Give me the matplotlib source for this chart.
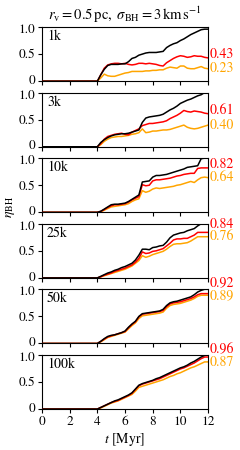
import numpy as np
import matplotlib
matplotlib.use('Agg')
import matplotlib.pyplot as plt
import matplotlib.transforms as mtransforms

plt.rcParams.update({
    "font.family": "serif",
    "font.serif": ["STIXGeneral", "Liberation Serif", "DejaVu Serif"],
    "mathtext.fontset": "stix",
    "font.size": 10,
    "xtick.labelsize": 9.5,
    "ytick.labelsize": 9.5,
    "axes.linewidth": 0.8,
    "xtick.major.size": 3,
    "ytick.major.size": 3,
    "xtick.major.width": 0.8,
    "ytick.major.width": 0.8,
})

# time grid (Myr); all curves are zero before 4 Myr
t = [0.0] + [4.0 + 0.25 * i for i in range(33)]

panel_names = ['1k', '3k', '10k', '25k', '50k', '100k']

black_1k = [0, 0.12, 0.22, 0.29, 0.31, 0.31, 0.31, 0.32, 0.32, 0.36, 0.42, 0.44, 0.48, 0.50, 0.52, 0.53, 0.53,
            0.53, 0.54, 0.55, 0.62, 0.66, 0.69, 0.71, 0.75, 0.78, 0.82, 0.86, 0.89, 0.92, 0.95, 0.96, 0.96]
red_1k = [0, 0.12, 0.24, 0.30, 0.32, 0.33, 0.33, 0.32, 0.33, 0.31, 0.30, 0.31, 0.33, 0.33, 0.32, 0.33, 0.32,
          0.31, 0.29, 0.28, 0.34, 0.38, 0.42, 0.45, 0.47, 0.46, 0.44, 0.45, 0.47, 0.46, 0.46, 0.44, 0.43]
orange_1k = [0, 0.06, 0.13, 0.10, 0.09, 0.09, 0.11, 0.13, 0.15, 0.16, 0.18, 0.18, 0.18, 0.18, 0.19, 0.19, 0.20,
             0.20, 0.21, 0.21, 0.24, 0.26, 0.25, 0.24, 0.28, 0.28, 0.24, 0.23, 0.23, 0.25, 0.27, 0.24, 0.23]

black_3k = [0, 0.08, 0.13, 0.17, 0.20, 0.22, 0.23, 0.24, 0.24, 0.25, 0.27, 0.29, 0.31, 0.45, 0.53, 0.55, 0.56,
            0.57, 0.58, 0.60, 0.64, 0.68, 0.71, 0.75, 0.80, 0.83, 0.86, 0.88, 0.91, 0.94, 0.96, 1.00, 1.00]
red_3k = [0, 0.06, 0.14, 0.19, 0.21, 0.23, 0.24, 0.25, 0.23, 0.22, 0.27, 0.30, 0.33, 0.39, 0.41, 0.43, 0.43,
          0.44, 0.45, 0.46, 0.48, 0.52, 0.55, 0.58, 0.62, 0.67, 0.65, 0.64, 0.66, 0.65, 0.64, 0.62, 0.61]
orange_3k = [0, 0.04, 0.10, 0.14, 0.17, 0.18, 0.19, 0.19, 0.20, 0.21, 0.23, 0.24, 0.26, 0.33, 0.26, 0.27, 0.29,
             0.29, 0.30, 0.31, 0.31, 0.32, 0.34, 0.36, 0.38, 0.40, 0.36, 0.34, 0.33, 0.34, 0.36, 0.38, 0.40]

black_10k = [0, 0.02, 0.06, 0.10, 0.14, 0.15, 0.15, 0.16, 0.17, 0.20, 0.24, 0.28, 0.32, 0.56, 0.57, 0.58, 0.65,
             0.68, 0.68, 0.69, 0.70, 0.72, 0.74, 0.76, 0.78, 0.80, 0.83, 0.84, 0.85, 0.86, 0.99, 1.00, 1.00]
red_10k = [0, 0.02, 0.05, 0.09, 0.12, 0.14, 0.14, 0.15, 0.16, 0.19, 0.23, 0.26, 0.29, 0.51, 0.49, 0.50, 0.58,
           0.60, 0.60, 0.61, 0.62, 0.63, 0.65, 0.67, 0.68, 0.70, 0.71, 0.72, 0.72, 0.81, 0.82, 0.82, 0.82]
orange_10k = [0, 0.01, 0.04, 0.07, 0.10, 0.11, 0.12, 0.13, 0.14, 0.16, 0.20, 0.23, 0.25, 0.40, 0.37, 0.39, 0.43,
              0.45, 0.44, 0.45, 0.46, 0.47, 0.48, 0.50, 0.51, 0.53, 0.55, 0.57, 0.55, 0.60, 0.64, 0.65, 0.64]

black_25k = [0, 0.03, 0.06, 0.09, 0.11, 0.14, 0.16, 0.19, 0.21, 0.24, 0.27, 0.33, 0.42, 0.53, 0.53, 0.52, 0.56,
             0.57, 0.59, 0.60, 0.66, 0.74, 0.79, 0.81, 0.83, 0.84, 0.87, 0.89, 0.91, 0.96, 1.00, 1.00, 1.00]
red_25k = [0, 0.02, 0.05, 0.07, 0.09, 0.12, 0.14, 0.16, 0.18, 0.21, 0.24, 0.29, 0.36, 0.48, 0.45, 0.46, 0.49,
           0.50, 0.52, 0.54, 0.59, 0.64, 0.70, 0.72, 0.72, 0.73, 0.73, 0.76, 0.79, 0.84, 0.84, 0.84, 0.84]
orange_25k = [0, 0.02, 0.04, 0.06, 0.08, 0.10, 0.12, 0.14, 0.16, 0.19, 0.22, 0.27, 0.32, 0.41, 0.38, 0.40, 0.43,
              0.45, 0.47, 0.49, 0.53, 0.58, 0.62, 0.63, 0.63, 0.64, 0.65, 0.68, 0.72, 0.76, 0.76, 0.76, 0.76]

black_50k = [0, 0.04, 0.09, 0.13, 0.15, 0.16, 0.18, 0.20, 0.23, 0.30, 0.36, 0.41, 0.50, 0.55, 0.56, 0.57, 0.58,
             0.59, 0.60, 0.63, 0.70, 0.75, 0.77, 0.78, 0.80, 0.82, 0.84, 0.86, 0.90, 0.95, 0.98, 1.00, 1.00]
red_50k = [0, 0.04, 0.08, 0.12, 0.14, 0.16, 0.18, 0.20, 0.22, 0.29, 0.35, 0.40, 0.49, 0.54, 0.55, 0.56, 0.57,
           0.58, 0.59, 0.61, 0.68, 0.73, 0.75, 0.76, 0.77, 0.79, 0.81, 0.83, 0.86, 0.90, 0.92, 0.92, 0.92]
orange_50k = [0, 0.03, 0.07, 0.11, 0.13, 0.15, 0.17, 0.19, 0.21, 0.27, 0.33, 0.38, 0.46, 0.51, 0.52, 0.53, 0.54,
              0.55, 0.56, 0.58, 0.65, 0.70, 0.72, 0.73, 0.74, 0.76, 0.78, 0.80, 0.83, 0.87, 0.89, 0.89, 0.89]

black_100k = [0, 0.03, 0.06, 0.09, 0.12, 0.15, 0.17, 0.20, 0.23, 0.26, 0.30, 0.37, 0.44, 0.47, 0.49, 0.51, 0.53,
              0.56, 0.58, 0.61, 0.64, 0.67, 0.70, 0.73, 0.76, 0.78, 0.81, 0.85, 0.88, 0.92, 0.96, 0.99, 1.00]
red_100k = [0, 0.03, 0.06, 0.09, 0.12, 0.14, 0.16, 0.19, 0.22, 0.25, 0.29, 0.36, 0.43, 0.46, 0.48, 0.50, 0.52,
            0.54, 0.56, 0.59, 0.62, 0.65, 0.68, 0.71, 0.74, 0.76, 0.79, 0.82, 0.85, 0.89, 0.93, 0.96, 0.96]
orange_100k = [0, 0.02, 0.05, 0.08, 0.11, 0.13, 0.15, 0.18, 0.21, 0.24, 0.27, 0.33, 0.40, 0.42, 0.44, 0.46, 0.48,
               0.50, 0.52, 0.54, 0.57, 0.60, 0.62, 0.65, 0.67, 0.70, 0.73, 0.76, 0.78, 0.81, 0.84, 0.87, 0.87]

black_all = [black_1k, black_3k, black_10k, black_25k, black_50k, black_100k]
red_all = [red_1k, red_3k, red_10k, red_25k, red_50k, red_100k]
orange_all = [orange_1k, orange_3k, orange_10k, orange_25k, orange_50k, orange_100k]

fig, axes = plt.subplots(6, 1, figsize=(2.4, 4.5), dpi=100, sharex=True)
fig.subplots_adjust(left=0.175, right=0.867, top=0.94, bottom=0.091, hspace=0.21)

# tiny nudges so "0" and "1.0" of neighbouring panels don't collide
nudge_up = mtransforms.ScaledTranslation(0, 1.2 / 72, fig.dpi_scale_trans)
nudge_down = mtransforms.ScaledTranslation(0, -1.2 / 72, fig.dpi_scale_trans)

for ax, name, blk, red, org in zip(axes, panel_names, black_all, red_all, orange_all):
    ax.plot(t, [0] + org, color='orange', lw=1.1, zorder=2)
    ax.plot(t, [0] + red, color='red', lw=1.1, zorder=3)
    ax.plot(t, [0] + blk, color='black', lw=1.1, zorder=4)

    ax.set_xlim(0, 12)
    ax.set_ylim(0, 1)
    ax.set_yticks([0, 0.5, 1.0])
    ax.set_yticklabels(['0', '0.5', '1.0'])
    ax.set_xticks(range(0, 13, 2))
    ax.tick_params(direction='out', pad=2)
    labels = ax.get_yticklabels()
    labels[0].set_transform(labels[0].get_transform() + nudge_up)
    labels[-1].set_transform(labels[-1].get_transform() + nudge_down)

    ax.text(0.03, 0.95, name, transform=ax.transAxes, ha='left', va='top')

    # final fractions on the right, red one pushed up so they do not overlap
    y_org = org[-1]
    y_red = max(red[-1] + 0.07, y_org + 0.23)
    ax.annotate(f'{red[-1]:.2f}', xy=(1.01, y_red), xycoords=('axes fraction', 'data'),
                color='red', ha='left', va='center', annotation_clip=False)
    ax.annotate(f'{org[-1]:.2f}', xy=(1.01, y_org), xycoords=('axes fraction', 'data'),
                color='orange', ha='left', va='center', annotation_clip=False)

axes[0].set_title(r'$r_{\rm v} = 0.5\,{\rm pc},\ \sigma_{\rm BH} = 3\,{\rm km\,s^{-1}}$', fontsize=10.5, pad=5)
axes[-1].set_xlabel(r'$t$ [Myr]', labelpad=2)
fig.text(0.045, 0.54, r'$\eta_{\rm BH}$', rotation=90, ha='center', va='center')

fig.savefig('out.png', dpi=100)
